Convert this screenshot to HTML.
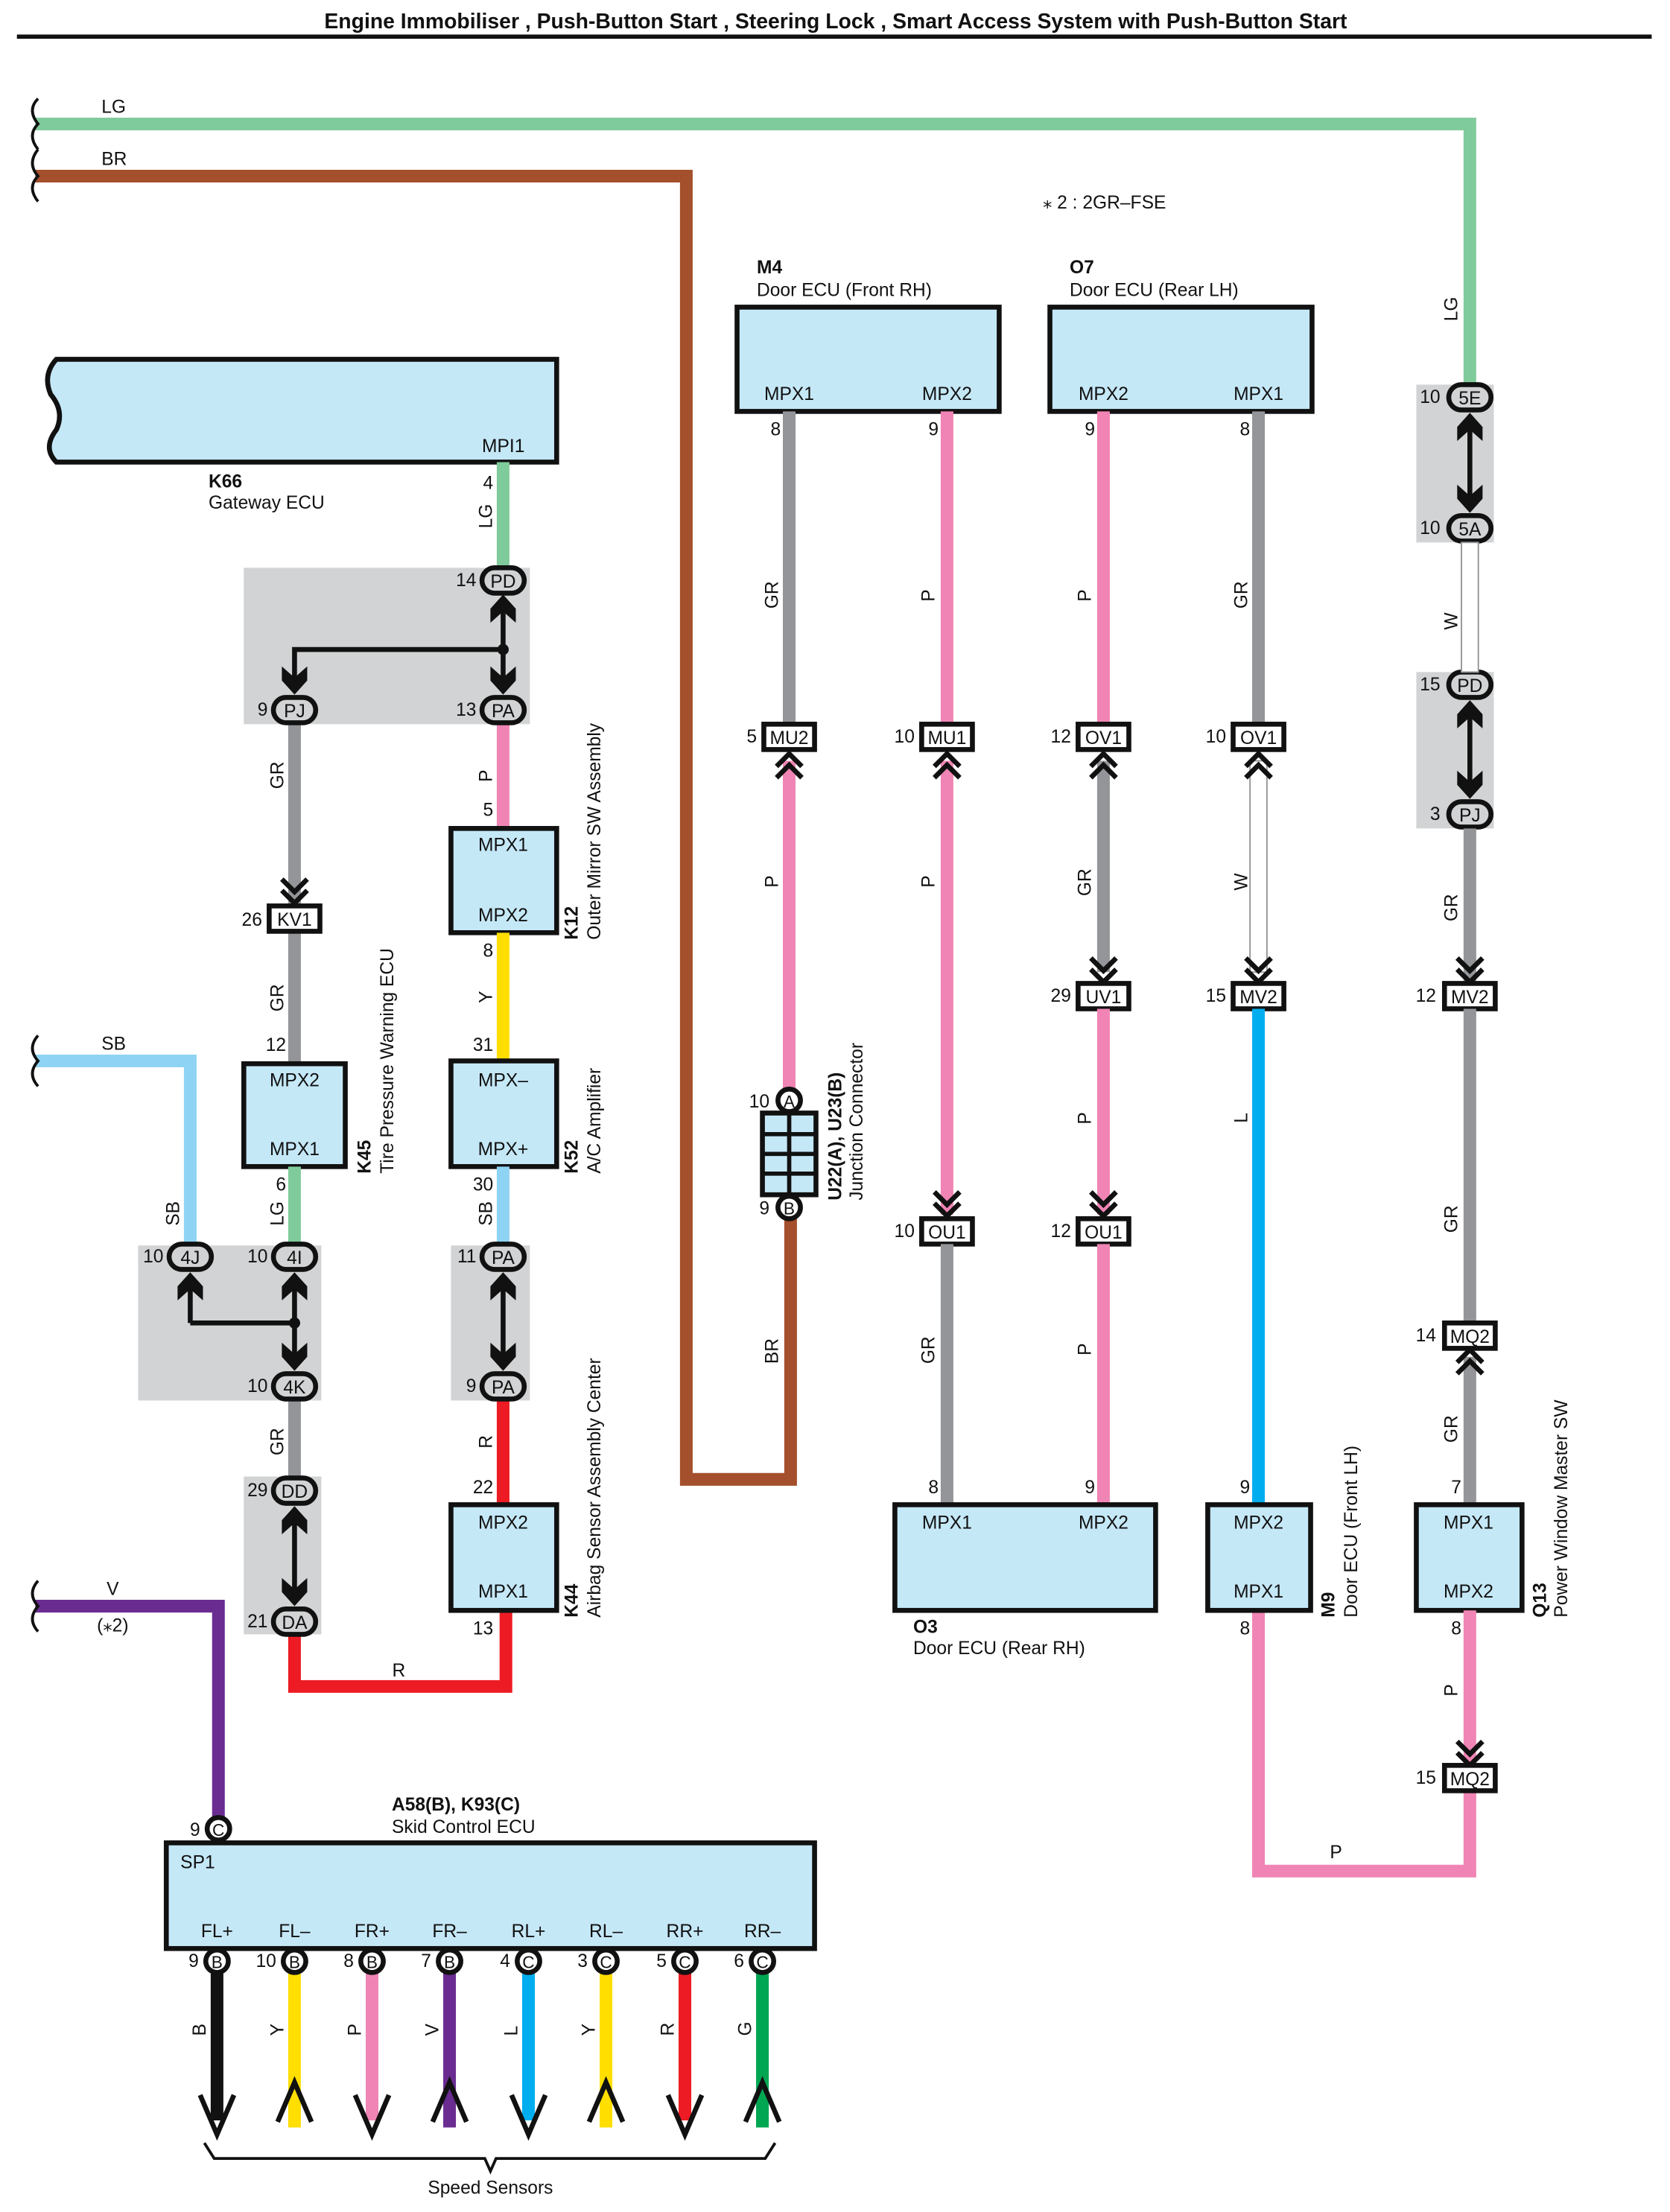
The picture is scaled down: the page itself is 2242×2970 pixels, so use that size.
<!DOCTYPE html>
<html><head><meta charset="utf-8"><style>
html,body{margin:0;padding:0;background:#fff;}
svg{display:block}
text{font-family:"Liberation Sans",sans-serif;font-size:13px;fill:#111}
.b{font-weight:bold}
.w{fill:none;stroke-width:9;stroke-linecap:butt;stroke-linejoin:miter}
.box{fill:#c5e8f7;stroke:#111;stroke-width:3.5}
.pill{fill:#fff;stroke:#111;stroke-width:3.5}
.pg{fill:#d1d3d4;stroke:#111;stroke-width:3.5}
.cr{fill:#fff;stroke:#111;stroke-width:3.5}
.ch{fill:none;stroke:#111;stroke-width:3.5}
.gb{fill:#d1d3d4}
.m{text-anchor:middle}
.e{text-anchor:end}
</style></head><body>
<svg width="2242" height="2970" viewBox="0 0 1185 1570" preserveAspectRatio="none" xmlns="http://www.w3.org/2000/svg">
<text x="593" y="20" class="b m" style="font-size:15px">Engine Immobiliser , Push-Button Start , Steering Lock , Smart Access System with Push-Button Start</text>
<line x1="12" y1="26" x2="1172" y2="26" stroke="#111" stroke-width="3"/>

<rect class="gb" x="173" y="403" width="203" height="111"/>
<rect class="gb" x="98" y="884" width="130" height="110"/>
<rect class="gb" x="173" y="1048" width="55" height="112"/>
<rect class="gb" x="320" y="884" width="56" height="110"/>
<rect class="gb" x="1005" y="273" width="55" height="112"/>
<rect class="gb" x="1005" y="477" width="55" height="111"/>

<polyline class="w" stroke="#80cb9c" points="25,88 1043,88 1043,275"/>
<polyline class="w" stroke="#a4502c" points="25,125 487,125 487,1050 561,1050 561,857"/>
<polyline class="w" points="25,753 135,753 135,884" style="stroke:#8fd3f4"/>
<polyline class="w" stroke="#6a2c91" points="25,1140 155,1140 155,1298"/>
<path d="M27,70 q-8,8 0,18 q-8,8 0,18 M27,106 q-8,10 0,19 q-8,8 0,18 M27,735 q-8,9 0,18 q-8,9 0,18 M27,1122 q-8,9 0,18 q-8,9 0,18" fill="none" stroke="#111" stroke-width="2"/>
<text x="72" y="80">LG</text><text x="72" y="117">BR</text><text x="72" y="745">SB</text>
<text x="80" y="1132" class="m">V</text><text x="80" y="1158" class="m">(⁎2)</text>
<text x="740" y="148">⁎ 2 : 2GR–FSE</text>

<path class="box" d="M40,255 L395,255 L395,328 L40,328 Q30,318 40,305 Q46,292 36,280 Q30,266 40,255 Z"/>
<text x="342" y="321">MPI1</text>
<text x="148" y="346" class="b">K66</text><text x="148" y="361">Gateway ECU</text>
<line class="w" stroke="#80cb9c" x1="357" y1="328" x2="357" y2="405"/>
<text x="350" y="347" class="e">4</text>
<text transform="translate(349,375) rotate(-90)">LG</text>

<line class="w" stroke="#939598" x1="209" y1="513" x2="209" y2="645"/>
<text transform="translate(201,560) rotate(-90)">GR</text>
<line class="w" stroke="#939598" x1="209" y1="661" x2="209" y2="755"/>
<text transform="translate(201,718) rotate(-90)">GR</text>
<text x="203" y="746" class="e">12</text>
<rect class="box" x="173" y="755" width="72" height="73"/>
<text x="209" y="771" class="m">MPX2</text><text x="209" y="820" class="m">MPX1</text>
<text transform="translate(263,833) rotate(-90)" class="b">K45</text>
<text transform="translate(279,833) rotate(-90)">Tire Pressure Warning ECU</text>
<line class="w" stroke="#80cb9c" x1="209" y1="828" x2="209" y2="884"/>
<text x="203" y="845" class="e">6</text>
<text transform="translate(201,870) rotate(-90)">LG</text>
<text transform="translate(127,870) rotate(-90)">SB</text>
<line class="w" stroke="#939598" x1="209" y1="994" x2="209" y2="1050"/>
<text transform="translate(201,1033) rotate(-90)">GR</text>
<polyline class="w" stroke="#ed1c24" points="209,1160 209,1197 359,1197 359,1143"/>
<text x="283" y="1190" class="m">R</text>

<line class="w" stroke="#f085b5" x1="357" y1="513" x2="357" y2="588"/>
<text transform="translate(349,555) rotate(-90)">P</text>
<text x="350" y="579" class="e">5</text>
<rect class="box" x="320" y="588" width="75" height="74"/>
<text x="357" y="604" class="m">MPX1</text><text x="357" y="654" class="m">MPX2</text>
<text transform="translate(410,667) rotate(-90)" class="b">K12</text>
<text transform="translate(426,667) rotate(-90)">Outer Mirror SW Assembly</text>
<line class="w" stroke="#ffde00" x1="357" y1="662" x2="357" y2="753"/>
<text x="350" y="679" class="e">8</text>
<text transform="translate(349,712) rotate(-90)">Y</text>
<text x="350" y="746" class="e">31</text>
<rect class="box" x="320" y="753" width="75" height="75"/>
<text x="357" y="771" class="m">MPX–</text><text x="357" y="820" class="m">MPX+</text>
<text transform="translate(410,833) rotate(-90)" class="b">K52</text>
<text transform="translate(426,833) rotate(-90)">A/C Amplifier</text>
<line class="w" stroke="#8fd3f4" x1="357" y1="828" x2="357" y2="884"/>
<text x="350" y="845" class="e">30</text>
<text transform="translate(349,870) rotate(-90)">SB</text>
<line class="w" stroke="#ed1c24" x1="357" y1="994" x2="357" y2="1068"/>
<text transform="translate(349,1028) rotate(-90)">R</text>
<text x="350" y="1060" class="e">22</text>
<rect class="box" x="320" y="1068" width="75" height="75"/>
<text x="357" y="1085" class="m">MPX2</text><text x="357" y="1134" class="m">MPX1</text>
<text x="350" y="1160" class="e">13</text>
<text transform="translate(410,1148) rotate(-90)" class="b">K44</text>
<text transform="translate(426,1148) rotate(-90)">Airbag Sensor Assembly Center</text>

<g stroke="#111" stroke-width="3.5" fill="none">
<line x1="357" y1="425" x2="357" y2="490"/>
<polyline points="357,461 209,461 209,490"/>
<line x1="135" y1="906" x2="135" y2="939"/><line x1="135" y1="939" x2="209" y2="939"/>
<line x1="209" y1="906" x2="209" y2="970"/>
<line x1="357" y1="906" x2="357" y2="970"/>
<line x1="209" y1="1072" x2="209" y2="1137"/>
<line x1="1043" y1="296" x2="1043" y2="361"/>
<line x1="1043" y1="500" x2="1043" y2="564"/>
</g>
<circle cx="357" cy="461" r="4" fill="#111"/><circle cx="209" cy="939" r="4" fill="#111"/>
<g fill="#111">
<path d="M357,422 L366,432 L366,442 L357,434 L348,442 L348,432Z"/>
<path d="M209,903 L218,913 L218,923 L209,915 L200,923 L200,913Z"/>
<path d="M135,903 L144,913 L144,923 L135,915 L126,923 L126,913Z"/>
<path d="M357,903 L366,913 L366,923 L357,915 L348,923 L348,913Z"/>
<path d="M209,1069 L218,1079 L218,1089 L209,1081 L200,1089 L200,1079Z"/>
<path d="M1043,293 L1052,303 L1052,313 L1043,305 L1034,313 L1034,303Z"/>
<path d="M1043,497 L1052,507 L1052,517 L1043,509 L1034,517 L1034,507Z"/>
<path d="M357,493 L366,483 L366,473 L357,481 L348,473 L348,483Z"/>
<path d="M209,493 L218,483 L218,473 L209,481 L200,473 L200,483Z"/>
<path d="M209,973 L218,963 L218,953 L209,961 L200,953 L200,963Z"/>
<path d="M357,973 L366,963 L366,953 L357,961 L348,953 L348,963Z"/>
<path d="M209,1140 L218,1130 L218,1120 L209,1128 L200,1120 L200,1130Z"/>
<path d="M1043,364 L1052,354 L1052,344 L1043,352 L1034,344 L1034,354Z"/>
<path d="M1043,567 L1052,557 L1052,547 L1043,555 L1034,547 L1034,557Z"/>
</g>

<g>
<rect class="pg" x="342" y="403" width="30" height="18" rx="9"/><text x="357" y="417" class="m">PD</text><text x="338" y="416" class="e">14</text>
<rect class="pg" x="342" y="495" width="30" height="18" rx="9"/><text x="357" y="509" class="m">PA</text><text x="338" y="508" class="e">13</text>
<rect class="pg" x="194" y="495" width="30" height="18" rx="9"/><text x="209" y="509" class="m">PJ</text><text x="190" y="508" class="e">9</text>
<rect class="pg" x="120" y="883" width="30" height="18" rx="9"/><text x="135" y="897" class="m">4J</text><text x="116" y="896" class="e">10</text>
<rect class="pg" x="194" y="883" width="30" height="18" rx="9"/><text x="209" y="897" class="m">4I</text><text x="190" y="896" class="e">10</text>
<rect class="pg" x="194" y="975" width="30" height="18" rx="9"/><text x="209" y="989" class="m">4K</text><text x="190" y="988" class="e">10</text>
<rect class="pg" x="342" y="883" width="30" height="18" rx="9"/><text x="357" y="897" class="m">PA</text><text x="338" y="896" class="e">11</text>
<rect class="pg" x="342" y="975" width="30" height="18" rx="9"/><text x="357" y="989" class="m">PA</text><text x="338" y="988" class="e">9</text>
<rect class="pg" x="194" y="1049" width="30" height="18" rx="9"/><text x="209" y="1063" class="m">DD</text><text x="190" y="1062" class="e">29</text>
<rect class="pg" x="194" y="1142" width="30" height="18" rx="9"/><text x="209" y="1156" class="m">DA</text><text x="190" y="1155" class="e">21</text>
<rect class="pg" x="1028" y="273" width="30" height="18" rx="9"/><text x="1043" y="287" class="m">5E</text><text x="1022" y="286" class="e">10</text>
<rect class="pg" x="1028" y="366" width="30" height="18" rx="9"/><text x="1043" y="380" class="m">5A</text><text x="1022" y="379" class="e">10</text>
<rect class="pg" x="1028" y="477" width="30" height="18" rx="9"/><text x="1043" y="491" class="m">PD</text><text x="1022" y="490" class="e">15</text>
<rect class="pg" x="1028" y="569" width="30" height="18" rx="9"/><text x="1043" y="583" class="m">PJ</text><text x="1022" y="582" class="e">3</text>
</g>

<path class="ch" d="M200,624 L209,633 L218,624 M200,632 L209,641 L218,632"/>
<rect class="cr" x="191" y="643" width="36" height="18"/><text x="209" y="657" class="m">KV1</text><text x="186" y="657" class="e">26</text>

<text x="537" y="194" class="b">M4</text><text x="537" y="210">Door ECU (Front RH)</text>
<rect class="box" x="523" y="218" width="186" height="74"/>
<text x="560" y="284" class="m">MPX1</text><text x="672" y="284" class="m">MPX2</text>
<line class="w" stroke="#939598" x1="560" y1="292" x2="560" y2="514"/>
<line class="w" stroke="#f085b5" x1="672" y1="292" x2="672" y2="514"/>
<text x="554" y="309" class="e">8</text><text x="666" y="309" class="e">9</text>
<text transform="translate(552,432) rotate(-90)">GR</text><text transform="translate(663,427) rotate(-90)">P</text>
<rect class="cr" x="542" y="514" width="36" height="18"/><text x="560" y="528" class="m">MU2</text><text x="537" y="527" class="e">5</text>
<rect class="cr" x="654" y="514" width="36" height="18"/><text x="672" y="528" class="m">MU1</text><text x="649" y="527" class="e">10</text>
<line class="w" stroke="#f085b5" x1="560" y1="540" x2="560" y2="773"/>
<text transform="translate(552,630) rotate(-90)">P</text>
<line class="w" stroke="#f085b5" x1="672" y1="540" x2="672" y2="862"/>
<text transform="translate(663,630) rotate(-90)">P</text>
<path class="ch" d="M551,544 L560,535 L569,544 M551,552 L560,543 L569,552"/>
<path class="ch" d="M663,544 L672,535 L681,544 M663,552 L672,543 L681,552"/>
<circle class="cr" cx="560" cy="781" r="8"/><text x="560" y="786" class="m" style="font-size:12px">A</text><text x="546" y="786" class="e">10</text>
<rect x="541" y="790" width="38" height="58" fill="#c5e8f7" stroke="#111" stroke-width="3.5"/>
<path d="M560,790 V848 M541,805 H579 M541,819 H579 M541,833 H579" stroke="#111" stroke-width="3"/>
<circle class="cr" cx="560" cy="857" r="8"/><text x="560" y="862" class="m" style="font-size:12px">B</text><text x="546" y="862" class="e">9</text>
<text transform="translate(597,852) rotate(-90)" class="b">U22(A), U23(B)</text>
<text transform="translate(612,852) rotate(-90)">Junction Connector</text>
<text transform="translate(552,968) rotate(-90)">BR</text>

<path class="ch" d="M663,846 L672,855 L681,846 M663,854 L672,863 L681,854"/>
<rect class="cr" x="654" y="865" width="36" height="18"/><text x="672" y="879" class="m">OU1</text><text x="649" y="878" class="e">10</text>
<line class="w" stroke="#939598" x1="672" y1="883" x2="672" y2="1068"/>
<text transform="translate(663,968) rotate(-90)">GR</text>
<text x="666" y="1060" class="e">8</text>

<text x="759" y="194" class="b">O7</text><text x="759" y="210">Door ECU (Rear LH)</text>
<rect class="box" x="745" y="218" width="186" height="74"/>
<text x="783" y="284" class="m">MPX2</text><text x="893" y="284" class="m">MPX1</text>
<line class="w" stroke="#f085b5" x1="783" y1="292" x2="783" y2="514"/>
<line class="w" stroke="#939598" x1="893" y1="292" x2="893" y2="514"/>
<text x="777" y="309" class="e">9</text><text x="887" y="309" class="e">8</text>
<text transform="translate(774,427) rotate(-90)">P</text><text transform="translate(885,432) rotate(-90)">GR</text>
<rect class="cr" x="765" y="514" width="36" height="18"/><text x="783" y="528" class="m">OV1</text><text x="760" y="527" class="e">12</text>
<rect class="cr" x="875" y="514" width="36" height="18"/><text x="893" y="528" class="m">OV1</text><text x="870" y="527" class="e">10</text>
<line class="w" stroke="#939598" x1="783" y1="540" x2="783" y2="690"/>
<text transform="translate(774,636) rotate(-90)">GR</text>
<rect x="887" y="540" width="12" height="150" fill="#fff" stroke="#939598" stroke-width="1"/>
<text transform="translate(885,632) rotate(-90)">W</text>
<path class="ch" d="M774,544 L783,535 L792,544 M774,552 L783,543 L792,552"/>
<path class="ch" d="M884,544 L893,535 L902,544 M884,552 L893,543 L902,552"/>
<path class="ch" d="M774,680 L783,689 L792,680 M774,688 L783,697 L792,688"/>
<path class="ch" d="M884,680 L893,689 L902,680 M884,688 L893,697 L902,688"/>
<rect class="cr" x="765" y="698" width="36" height="18"/><text x="783" y="712" class="m">UV1</text><text x="760" y="711" class="e">29</text>
<rect class="cr" x="875" y="698" width="36" height="18"/><text x="893" y="712" class="m">MV2</text><text x="870" y="711" class="e">15</text>
<line class="w" stroke="#f085b5" x1="783" y1="716" x2="783" y2="862"/>
<text transform="translate(774,798) rotate(-90)">P</text>
<path class="ch" d="M774,846 L783,855 L792,846 M774,854 L783,863 L792,854"/>
<rect class="cr" x="765" y="865" width="36" height="18"/><text x="783" y="879" class="m">OU1</text><text x="760" y="878" class="e">12</text>
<line class="w" stroke="#f085b5" x1="783" y1="883" x2="783" y2="1068"/>
<text transform="translate(774,962) rotate(-90)">P</text>
<text x="777" y="1060" class="e">9</text>
<line class="w" stroke="#00aeef" x1="893" y1="716" x2="893" y2="1068"/>
<text transform="translate(885,797) rotate(-90)">L</text>
<text x="887" y="1060" class="e">9</text>

<rect class="box" x="635" y="1068" width="185" height="75"/>
<text x="672" y="1085" class="m">MPX1</text><text x="783" y="1085" class="m">MPX2</text>
<text x="648" y="1159" class="b">O3</text><text x="648" y="1174">Door ECU (Rear RH)</text>

<polyline class="w" stroke="#f085b5" points="893,1143 893,1328 1043,1328 1043,1270"/>
<rect class="box" x="857" y="1068" width="73" height="75"/>
<text x="893" y="1085" class="m">MPX2</text><text x="893" y="1134" class="m">MPX1</text>
<text x="887" y="1160" class="e">8</text>
<text transform="translate(947,1148) rotate(-90)" class="b">M9</text>
<text transform="translate(963,1148) rotate(-90)">Door ECU (Front LH)</text>
<text x="948" y="1319" class="m">P</text>

<text transform="translate(1034,228) rotate(-90)">LG</text>
<rect x="1037" y="385" width="12" height="92" fill="#fff" stroke="#939598" stroke-width="1"/>
<text transform="translate(1034,447) rotate(-90)">W</text>
<line class="w" stroke="#939598" x1="1043" y1="588" x2="1043" y2="698"/>
<text transform="translate(1034,654) rotate(-90)">GR</text>
<path class="ch" d="M1034,680 L1043,689 L1052,680 M1034,688 L1043,697 L1052,688"/>
<rect class="cr" x="1025" y="698" width="36" height="18"/><text x="1043" y="712" class="m">MV2</text><text x="1019" y="711" class="e">12</text>
<line class="w" stroke="#939598" x1="1043" y1="716" x2="1043" y2="939"/>
<text transform="translate(1034,875) rotate(-90)">GR</text>
<rect class="cr" x="1025" y="939" width="36" height="18"/><text x="1043" y="953" class="m">MQ2</text><text x="1019" y="952" class="e">14</text>
<line class="w" stroke="#939598" x1="1043" y1="963" x2="1043" y2="1068"/>
<path class="ch" d="M1034,967 L1043,958 L1052,967 M1034,975 L1043,966 L1052,975"/>
<text transform="translate(1034,1024) rotate(-90)">GR</text>
<text x="1037" y="1060" class="e">7</text>
<rect class="box" x="1005" y="1068" width="75" height="75"/>
<text x="1042" y="1085" class="m">MPX1</text><text x="1042" y="1134" class="m">MPX2</text>
<text x="1037" y="1160" class="e">8</text>
<text transform="translate(1097,1148) rotate(-90)" class="b">Q13</text>
<text transform="translate(1112,1148) rotate(-90)">Power Window Master SW</text>
<line class="w" stroke="#f085b5" x1="1043" y1="1143" x2="1043" y2="1253"/>
<text transform="translate(1034,1204) rotate(-90)">P</text>
<path class="ch" d="M1034,1236 L1043,1245 L1052,1236 M1034,1244 L1043,1253 L1052,1244"/>
<rect class="cr" x="1025" y="1253" width="36" height="18"/><text x="1043" y="1267" class="m">MQ2</text><text x="1019" y="1266" class="e">15</text>

<text x="278" y="1285" class="b">A58(B), K93(C)</text><text x="278" y="1301">Skid Control ECU</text>
<rect class="box" x="118" y="1308" width="460" height="75"/>
<circle class="cr" cx="155" cy="1298" r="8"/><text x="155" y="1303" class="m" style="font-size:12px">C</text><text x="142" y="1303" class="e">9</text>
<text x="128" y="1326">SP1</text>
<g>
<text x="154" y="1375" class="m">FL+</text><text x="209" y="1375" class="m">FL–</text><text x="264" y="1375" class="m">FR+</text><text x="319" y="1375" class="m">FR–</text>
<text x="375" y="1375" class="m">RL+</text><text x="430" y="1375" class="m">RL–</text><text x="486" y="1375" class="m">RR+</text><text x="541" y="1375" class="m">RR–</text>
</g>
<line class="w" stroke="#111" x1="154" y1="1400" x2="154" y2="1505"/>
<line class="w" stroke="#ffde00" x1="209" y1="1400" x2="209" y2="1510" stroke-linecap="round"/>
<line class="w" stroke="#f085b5" x1="264" y1="1400" x2="264" y2="1505"/>
<line class="w" stroke="#6a2c91" x1="319" y1="1400" x2="319" y2="1510" stroke-linecap="round"/>
<line class="w" stroke="#00aeef" x1="375" y1="1400" x2="375" y2="1505"/>
<line class="w" stroke="#ffde00" x1="430" y1="1400" x2="430" y2="1510" stroke-linecap="round"/>
<line class="w" stroke="#ed1c24" x1="486" y1="1400" x2="486" y2="1505"/>
<line class="w" stroke="#00a651" x1="541" y1="1400" x2="541" y2="1510" stroke-linecap="round"/>
<g style="stroke-width:3.5;fill:none;stroke:#111">
<path d="M142,1487 L154,1515 L166,1487"/>
<path d="M197,1506 L209,1478 L221,1506"/>
<path d="M252,1487 L264,1515 L276,1487"/>
<path d="M307,1506 L319,1478 L331,1506"/>
<path d="M363,1487 L375,1515 L387,1487"/>
<path d="M418,1506 L430,1478 L442,1506"/>
<path d="M474,1487 L486,1515 L498,1487"/>
<path d="M529,1506 L541,1478 L553,1506"/>
</g>
<g>
<circle class="cr" cx="154" cy="1392" r="8"/><text x="154" y="1397" class="m" style="font-size:12px">B</text><text x="141" y="1396" class="e">9</text>
<circle class="cr" cx="209" cy="1392" r="8"/><text x="209" y="1397" class="m" style="font-size:12px">B</text><text x="196" y="1396" class="e">10</text>
<circle class="cr" cx="264" cy="1392" r="8"/><text x="264" y="1397" class="m" style="font-size:12px">B</text><text x="251" y="1396" class="e">8</text>
<circle class="cr" cx="319" cy="1392" r="8"/><text x="319" y="1397" class="m" style="font-size:12px">B</text><text x="306" y="1396" class="e">7</text>
<circle class="cr" cx="375" cy="1392" r="8"/><text x="375" y="1397" class="m" style="font-size:12px">C</text><text x="362" y="1396" class="e">4</text>
<circle class="cr" cx="430" cy="1392" r="8"/><text x="430" y="1397" class="m" style="font-size:12px">C</text><text x="417" y="1396" class="e">3</text>
<circle class="cr" cx="486" cy="1392" r="8"/><text x="486" y="1397" class="m" style="font-size:12px">C</text><text x="473" y="1396" class="e">5</text>
<circle class="cr" cx="541" cy="1392" r="8"/><text x="541" y="1397" class="m" style="font-size:12px">C</text><text x="528" y="1396" class="e">6</text>
</g>
<g>
<text transform="translate(146,1445) rotate(-90)">B</text><text transform="translate(201,1445) rotate(-90)">Y</text>
<text transform="translate(256,1445) rotate(-90)">P</text><text transform="translate(311,1445) rotate(-90)">V</text>
<text transform="translate(367,1445) rotate(-90)">L</text><text transform="translate(422,1445) rotate(-90)">Y</text>
<text transform="translate(478,1445) rotate(-90)">R</text><text transform="translate(533,1445) rotate(-90)">G</text>
</g>
<path d="M145,1521 L152,1532 L344,1532 L348,1541 L352,1532 L543,1532 L550,1521" fill="none" stroke="#111" stroke-width="2"/>
<text x="348" y="1557" class="m">Speed Sensors</text>
</svg>
</body></html>
